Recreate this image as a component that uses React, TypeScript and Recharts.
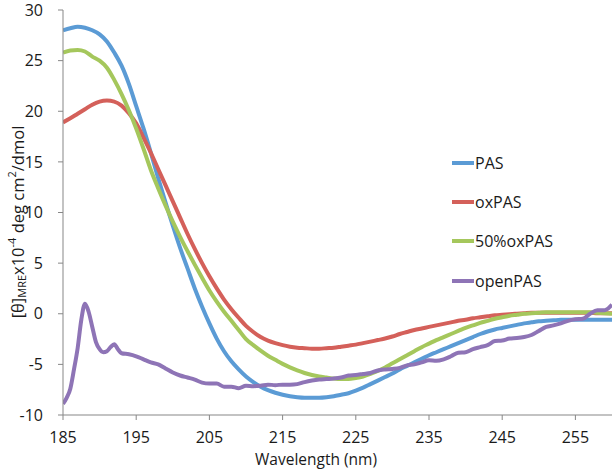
import {
    LineChart,
    Line,
    XAxis,
    YAxis,
    Legend,
    Label,
} from "recharts";

const FONT = "'Open Sans', sans-serif";

// wavelength grid (nm) shared by PAS / oxPAS / 50%oxPAS
const wavelengths = [
    185, 186, 187, 188, 189, 190, 191, 192, 193, 194,
    195, 196, 197, 198, 199, 200, 201, 202, 203, 204,
    205, 206, 207, 208, 209, 210, 211, 212, 213, 214,
    215, 216, 217, 218, 219, 220, 221, 222, 223, 224,
    225, 226, 227, 228, 229, 230, 231, 232, 233, 234,
    235, 236, 237, 238, 239, 240, 241, 242, 243, 244,
    245, 246, 247, 248, 249, 250, 251, 252, 253, 254,
    255, 256, 257, 258, 259, 260,
];

const pas = [
    28.0, 28.2, 28.35, 28.25, 28.0, 27.6, 26.9, 25.8, 24.5, 22.7,
    20.5, 18.3, 15.9, 13.4, 11.0, 8.7, 6.5, 4.5, 2.5, 0.7,
    -0.95, -2.45, -3.7, -4.7, -5.5, -6.2, -6.75, -7.2, -7.55, -7.8,
    -8.0, -8.15, -8.25, -8.3, -8.3, -8.3, -8.25, -8.15, -8.0, -7.85,
    -7.6, -7.3, -6.95, -6.6, -6.25, -5.9, -5.5, -5.15, -4.8, -4.45,
    -4.1, -3.8, -3.5, -3.2, -2.9, -2.6, -2.3, -2.0, -1.75, -1.55,
    -1.4, -1.25, -1.1, -0.95, -0.85, -0.75, -0.7, -0.65, -0.6, -0.6,
    -0.6, -0.6, -0.6, -0.6, -0.6, -0.6,
];

const oxPas = [
    18.9, 19.3, 19.75, 20.2, 20.65, 20.95, 21.05, 20.95, 20.55, 19.8,
    18.8, 17.4, 15.9, 14.3, 12.7, 11.1, 9.5, 7.9, 6.4, 5.0,
    3.7, 2.5, 1.4, 0.45, -0.4, -1.2, -1.8, -2.3, -2.65, -2.9,
    -3.1, -3.25, -3.35, -3.4, -3.45, -3.45, -3.4, -3.35, -3.25, -3.15,
    -3.05, -2.9, -2.75, -2.6, -2.45, -2.25, -2.0, -1.8, -1.6, -1.45,
    -1.3, -1.15, -1.0, -0.85, -0.7, -0.6, -0.45, -0.35, -0.25, -0.15,
    -0.1, -0.05, 0.0, 0.05, 0.1, 0.1, 0.1, 0.1, 0.1, 0.1,
    0.1, 0.1, 0.1, 0.05, 0.05, 0.05,
];

const halfOxPas = [
    25.8, 26.0, 26.05, 25.9, 25.4, 25.0, 24.3, 23.1, 21.7, 20.1,
    18.3, 16.3, 14.2, 12.4, 10.7, 9.1, 7.6, 6.2, 4.85, 3.55,
    2.3, 1.2, 0.2, -0.7, -1.6, -2.5, -3.1, -3.65, -4.15, -4.55,
    -4.95, -5.3, -5.6, -5.85, -6.05, -6.2, -6.3, -6.4, -6.45, -6.45,
    -6.35, -6.2, -5.95, -5.65, -5.3, -4.9, -4.5, -4.1, -3.7, -3.3,
    -2.95, -2.6, -2.3, -2.0, -1.7, -1.4, -1.15, -0.9, -0.7, -0.5,
    -0.35, -0.2, -0.1, 0.0, 0.05, 0.1, 0.15, 0.15, 0.15, 0.15,
    0.15, 0.15, 0.15, 0.1, 0.05, 0.0,
];

// openPAS is sampled finer around the sharp peak
const openWavelengths = [
    185, 185.5, 186, 186.5, 187, 187.5, 188, 188.5, 189, 189.5,
    190, 190.5, 191, 191.5, 192, 192.5, 193, 194, 195, 196,
    197, 198, 199, 200, 201, 202, 203, 204, 205, 206,
    207, 208, 209, 210, 211, 212, 213, 214, 215, 216,
    217, 218, 219, 220, 221, 222, 223, 224, 225, 226,
    227, 228, 229, 230, 231, 232, 233, 234, 235, 236,
    237, 238, 239, 240, 241, 242, 243, 244, 245, 246,
    247, 248, 249, 250, 251, 252, 253, 254, 255, 256,
    257, 258, 259, 260,
];

const openPas = [
    -8.9, -8.3, -7.4, -5.5, -3.4, -0.6, 1.0, 0.2, -1.3, -2.8,
    -3.5, -3.8, -3.7, -3.3, -3.0, -3.5, -3.9, -4.0, -4.2, -4.5,
    -4.8, -5.0, -5.4, -5.8, -6.1, -6.3, -6.5, -6.8, -6.9, -6.9,
    -7.2, -7.2, -7.35, -7.1, -7.15, -7.1, -7.0, -7.05, -7.0, -7.0,
    -6.95, -6.75, -6.6, -6.5, -6.45, -6.4, -6.3, -6.1, -6.05, -5.95,
    -5.85, -5.6, -5.5, -5.45, -5.35, -5.1, -5.0, -4.8, -4.6, -4.65,
    -4.5, -4.2, -3.85, -3.8, -3.5, -3.3, -3.1, -2.7, -2.65, -2.45,
    -2.4, -2.3, -2.1, -1.7, -1.3, -1.15, -0.95, -0.7, -0.55, -0.5,
    0.0, 0.35, 0.35, 0.9,
];

const xTicks = [185, 195, 205, 215, 225, 235, 245, 255];
const yTicks = [-10, -5, 0, 5, 10, 15, 20, 25, 30];

const series = [
    { key: "pas", name: "PAS", color: "#5B9BD5" },
    { key: "oxPas", name: "oxPAS", color: "#D4605A" },
    { key: "halfOxPas", name: "50%oxPAS", color: "#A5C75C" },
    { key: "openPas", name: "openPAS", color: "#8E74B6" },
];

const mainRows = wavelengths.map((w, i) => ({
    w,
    pas: pas[i],
    oxPas: oxPas[i],
    halfOxPas: halfOxPas[i],
}));
const openRows = openWavelengths.map((w, i) => ({ w, openPas: openPas[i] }));

const axisColor = "#878787";
const tickStyle = { fill: "#1a1a1a", fontSize: 16, fontFamily: FONT };

const renderLegend = () => (
    <div style={{ fontFamily: FONT, fontSize: 16, color: "#1a1a1a" }}>
        {series.map((s) => (
            <div key={s.key} style={{ display: "flex", alignItems: "center", height: 39.3 }}>
                <span style={{ display: "inline-block", width: 22, height: 4, background: s.color, marginRight: 1 }} />
                <span>{s.name}</span>
            </div>
        ))}
    </div>
);

const YTitle = () => (
    <text
        x={17}
        y={222}
        transform="rotate(-90 17 222)"
        textAnchor="middle"
        dominantBaseline="central"
        fontFamily={FONT}
        fontSize={16.5}
        fill="#1a1a1a"
    >
        <tspan>[θ]</tspan>
        <tspan fontSize={11} dy={4}>MRE</tspan>
        <tspan dy={-4}>x10</tspan>
        <tspan fontSize={11} dy={-6}>-4</tspan>
        <tspan dy={6}> deg cm</tspan>
        <tspan fontSize={11} dy={-6}>2</tspan>
        <tspan dy={6}>/dmol</tspan>
    </text>
);

const XTitle = () => (
    <text
        x={316}
        y={459}
        textAnchor="middle"
        dominantBaseline="central"
        fontFamily={FONT}
        fontSize={15.5}
        fill="#1a1a1a"
    >
        Wavelength (nm)
    </text>
);

export default function App() {
    return (
        <div style={{ position: "absolute", left: 0, top: 0, background: "#fff" }}>
            <LineChart
                width={616}
                height={470}
                margin={{ top: 10, right: 4, left: 0, bottom: 0 }}
            >
                <XAxis
                    dataKey="w"
                    type="number"
                    domain={[185, 260]}
                    ticks={xTicks}
                    allowDataOverflow
                    height={55}
                    stroke={axisColor}
                    tickSize={5}
                    tickMargin={12}
                    tick={tickStyle}
                >
                    <Label content={() => <XTitle />} />
                </XAxis>
                <YAxis
                    type="number"
                    domain={[-10, 30]}
                    ticks={yTicks}
                    width={63}
                    stroke={axisColor}
                    tickSize={5}
                    tickMargin={15}
                    tick={tickStyle}
                >
                    <Label content={() => <YTitle />} />
                </YAxis>
                <Legend
                    content={renderLegend}
                    layout="horizontal"
                    verticalAlign="middle"
                    align="center"
                    wrapperStyle={{ position: "absolute", left: 452, top: 143, width: 150 }}
                />
                <Line data={mainRows} dataKey="pas" name="PAS" type="monotone" stroke={series[0].color}
                    strokeWidth={4} dot={false} isAnimationActive={false} />
                <Line data={mainRows} dataKey="oxPas" name="oxPAS" type="monotone" stroke={series[1].color}
                    strokeWidth={4} dot={false} isAnimationActive={false} />
                <Line data={mainRows} dataKey="halfOxPas" name="50%oxPAS" type="monotone" stroke={series[2].color}
                    strokeWidth={4} dot={false} isAnimationActive={false} />
                <Line data={openRows} dataKey="openPas" name="openPAS" type="monotone" stroke={series[3].color}
                    strokeWidth={4} dot={false} isAnimationActive={false} />
            </LineChart>
        </div>
    );
}
